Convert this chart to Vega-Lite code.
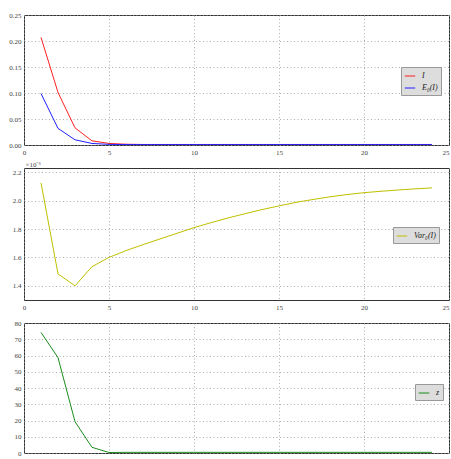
{
  "$schema": "https://vega.github.io/schema/vega-lite/v6.json",
  "padding": {"left": 8, "top": 10, "right": 0, "bottom": 0},
  "background": "white",
  "bounds": "flush",
  "spacing": 23,
  "resolve": {"scale": {"color": "independent"}, "legend": {"color": "independent"}},
  "config": {
    "view": {"stroke": "#333333", "strokeWidth": 1},
    "axis": {
      "domain": false,
      "grid": true,
      "gridColor": "#999999",
      "gridDash": [1, 2.5],
      "gridWidth": 0.8,
      "ticks": false,
      "labelFont": "Liberation Serif",
      "labelFontSize": 7,
      "labelColor": "#444444",
      "labelPadding": 3,
      "title": null
    },
    "axisX": {
      "labelAlign": {"condition": {"test": "datum.value == 25", "value": "right"}, "value": "center"}
    },
    "legend": {
      "orient": "none",
      "title": null,
      "symbolType": "stroke",
      "symbolStrokeWidth": 1,
      "symbolSize": 110,
      "labelFont": "Liberation Serif",
      "labelFontStyle": "italic",
      "labelFontSize": 8,
      "labelColor": "#222222",
      "fillColor": "#dddddd",
      "strokeColor": "#999999",
      "padding": 3,
      "rowPadding": 2,
      "labelOffset": 6
    },
    "line": {"strokeWidth": 1}
  },
  "datasets": {
    "p1": [
      {"x": 1, "series": "I", "value": 0.207},
      {"x": 2, "series": "I", "value": 0.101},
      {"x": 3, "series": "I", "value": 0.033},
      {"x": 4, "series": "I", "value": 0.008},
      {"x": 5, "series": "I", "value": 0.003},
      {"x": 6, "series": "I", "value": 0.0015},
      {"x": 7, "series": "I", "value": 0.001},
      {"x": 8, "series": "I", "value": 0.001},
      {"x": 9, "series": "I", "value": 0.001},
      {"x": 10, "series": "I", "value": 0.001},
      {"x": 11, "series": "I", "value": 0.001},
      {"x": 12, "series": "I", "value": 0.001},
      {"x": 13, "series": "I", "value": 0.001},
      {"x": 14, "series": "I", "value": 0.001},
      {"x": 15, "series": "I", "value": 0.001},
      {"x": 16, "series": "I", "value": 0.001},
      {"x": 17, "series": "I", "value": 0.001},
      {"x": 18, "series": "I", "value": 0.001},
      {"x": 19, "series": "I", "value": 0.001},
      {"x": 20, "series": "I", "value": 0.001},
      {"x": 21, "series": "I", "value": 0.001},
      {"x": 22, "series": "I", "value": 0.001},
      {"x": 23, "series": "I", "value": 0.001},
      {"x": 24, "series": "I", "value": 0.001},
      {"x": 1, "series": "E₀(I)", "value": 0.099},
      {"x": 2, "series": "E₀(I)", "value": 0.032},
      {"x": 3, "series": "E₀(I)", "value": 0.010},
      {"x": 4, "series": "E₀(I)", "value": 0.003},
      {"x": 5, "series": "E₀(I)", "value": 0.0012},
      {"x": 6, "series": "E₀(I)", "value": 0.0008},
      {"x": 7, "series": "E₀(I)", "value": 0.0008},
      {"x": 8, "series": "E₀(I)", "value": 0.0008},
      {"x": 9, "series": "E₀(I)", "value": 0.0008},
      {"x": 10, "series": "E₀(I)", "value": 0.0008},
      {"x": 11, "series": "E₀(I)", "value": 0.0008},
      {"x": 12, "series": "E₀(I)", "value": 0.0008},
      {"x": 13, "series": "E₀(I)", "value": 0.0008},
      {"x": 14, "series": "E₀(I)", "value": 0.0008},
      {"x": 15, "series": "E₀(I)", "value": 0.0008},
      {"x": 16, "series": "E₀(I)", "value": 0.0008},
      {"x": 17, "series": "E₀(I)", "value": 0.0008},
      {"x": 18, "series": "E₀(I)", "value": 0.0008},
      {"x": 19, "series": "E₀(I)", "value": 0.0008},
      {"x": 20, "series": "E₀(I)", "value": 0.0008},
      {"x": 21, "series": "E₀(I)", "value": 0.0008},
      {"x": 22, "series": "E₀(I)", "value": 0.0008},
      {"x": 23, "series": "E₀(I)", "value": 0.0008},
      {"x": 24, "series": "E₀(I)", "value": 0.0008}
    ],
    "p2": [
      {"x": 1, "series": "Var₀(I)", "value": 2.125},
      {"x": 2, "series": "Var₀(I)", "value": 1.484},
      {"x": 3, "series": "Var₀(I)", "value": 1.400},
      {"x": 4, "series": "Var₀(I)", "value": 1.535},
      {"x": 5, "series": "Var₀(I)", "value": 1.600},
      {"x": 6, "series": "Var₀(I)", "value": 1.648},
      {"x": 7, "series": "Var₀(I)", "value": 1.690},
      {"x": 8, "series": "Var₀(I)", "value": 1.730},
      {"x": 9, "series": "Var₀(I)", "value": 1.770},
      {"x": 10, "series": "Var₀(I)", "value": 1.810},
      {"x": 11, "series": "Var₀(I)", "value": 1.845},
      {"x": 12, "series": "Var₀(I)", "value": 1.878},
      {"x": 13, "series": "Var₀(I)", "value": 1.908},
      {"x": 14, "series": "Var₀(I)", "value": 1.937},
      {"x": 15, "series": "Var₀(I)", "value": 1.963},
      {"x": 16, "series": "Var₀(I)", "value": 1.988},
      {"x": 17, "series": "Var₀(I)", "value": 2.008},
      {"x": 18, "series": "Var₀(I)", "value": 2.027},
      {"x": 19, "series": "Var₀(I)", "value": 2.043},
      {"x": 20, "series": "Var₀(I)", "value": 2.056},
      {"x": 21, "series": "Var₀(I)", "value": 2.066},
      {"x": 22, "series": "Var₀(I)", "value": 2.075},
      {"x": 23, "series": "Var₀(I)", "value": 2.083},
      {"x": 24, "series": "Var₀(I)", "value": 2.090}
    ],
    "p3": [
      {"x": 1, "series": "z", "value": 74.2},
      {"x": 2, "series": "z", "value": 58.7},
      {"x": 3, "series": "z", "value": 19.3},
      {"x": 4, "series": "z", "value": 3.5},
      {"x": 5, "series": "z", "value": 0.3},
      {"x": 6, "series": "z", "value": 0.4},
      {"x": 7, "series": "z", "value": 0.4},
      {"x": 8, "series": "z", "value": 0.4},
      {"x": 9, "series": "z", "value": 0.4},
      {"x": 10, "series": "z", "value": 0.4},
      {"x": 11, "series": "z", "value": 0.4},
      {"x": 12, "series": "z", "value": 0.4},
      {"x": 13, "series": "z", "value": 0.4},
      {"x": 14, "series": "z", "value": 0.4},
      {"x": 15, "series": "z", "value": 0.4},
      {"x": 16, "series": "z", "value": 0.4},
      {"x": 17, "series": "z", "value": 0.4},
      {"x": 18, "series": "z", "value": 0.4},
      {"x": 19, "series": "z", "value": 0.4},
      {"x": 20, "series": "z", "value": 0.4},
      {"x": 21, "series": "z", "value": 0.4},
      {"x": 22, "series": "z", "value": 0.4},
      {"x": 23, "series": "z", "value": 0.4},
      {"x": 24, "series": "z", "value": 0.4}
    ]
  },
  "vconcat": [
    {
      "width": 425,
      "height": 130,
      "data": {"name": "p1"},
      "mark": {"type": "line", "clip": true},
      "encoding": {
        "x": {"field": "x", "type": "quantitative", "scale": {"domain": [0, 25], "nice": false}, "axis": {"values": [0, 5, 10, 15, 20, 25]}},
        "y": {"field": "value", "type": "quantitative", "scale": {"domain": [0, 0.25], "nice": false}, "axis": {"values": [0, 0.05, 0.1, 0.15, 0.2, 0.25], "format": ".2f"}},
        "color": {"field": "series", "type": "nominal", "sort": ["I", "E₀(I)"], "scale": {"domain": ["I", "E₀(I)"], "range": ["#ff2020", "#2020ff"]}, "legend": {"legendX": 377, "legendY": 52}}
      }
    },
    {
      "width": 425,
      "height": 132,
      "data": {"name": "p2"},
      "mark": {"type": "line", "clip": true},
      "encoding": {
        "x": {"field": "x", "type": "quantitative", "scale": {"domain": [0, 25], "nice": false}, "axis": {"values": [0, 5, 10, 15, 20, 25]}},
        "y": {"field": "value", "type": "quantitative", "scale": {"domain": [1.3, 2.23], "nice": false, "zero": false}, "axis": {"values": [1.4, 1.6, 1.8, 2.0, 2.2], "format": ".1f", "title": "×10⁻⁶", "titleAngle": 0, "titleX": 1, "titleY": -1, "titleAlign": "left", "titleBaseline": "bottom", "titleFont": "Liberation Serif", "titleFontSize": 7, "titleFontWeight": "normal", "titleColor": "#444444"}},
        "color": {"field": "series", "type": "nominal", "scale": {"domain": ["Var₀(I)"], "range": ["#bfbf00"]}, "legend": {"legendX": 369, "legendY": 59}}
      }
    },
    {
      "width": 425,
      "height": 130,
      "data": {"name": "p3"},
      "mark": {"type": "line", "clip": true},
      "encoding": {
        "x": {"field": "x", "type": "quantitative", "scale": {"domain": [0, 25], "nice": false}, "axis": {"values": [0, 5, 10, 15, 20, 25]}},
        "y": {"field": "value", "type": "quantitative", "scale": {"domain": [0, 80], "nice": false}, "axis": {"values": [0, 10, 20, 30, 40, 50, 60, 70, 80]}},
        "color": {"field": "series", "type": "nominal", "scale": {"domain": ["z"], "range": ["#1a8c1a"]}, "legend": {"legendX": 391, "legendY": 61}}
      }
    }
  ]
}
